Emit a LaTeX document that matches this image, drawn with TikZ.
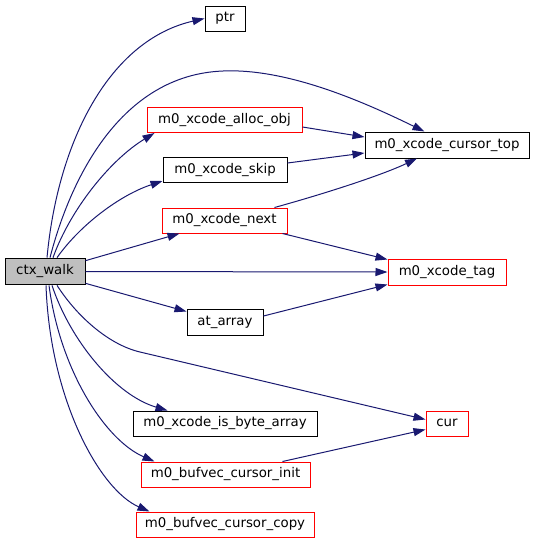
\documentclass[tikz,border=0pt]{standalone}
\usepackage{fontspec}
\setmainfont{DejaVu Sans}
\usetikzlibrary{arrows.meta,calc}
\definecolor{edgeblue}{HTML}{191970}
\definecolor{nodegray}{HTML}{BFBFBF}
\begin{document}
\begin{tikzpicture}[x=0.75pt,y=-0.75pt,
  fn/.style={draw=black, line width=0.75pt, inner sep=0pt, minimum height=18.75pt,
    text height=7.3pt, text depth=2.2pt, font=\fontsize{10}{12}\selectfont, anchor=center},
  redfn/.style={fn, draw=red},
  root/.style={fn, fill=nodegray, minimum height=20pt},
  call/.style={draw=edgeblue, line width=0.75pt, -{Triangle[length=9pt,width=6pt]}}
]
\useasboundingbox (0,0) rectangle (535,544);

\node[root, minimum width=60pt] (ctx) at (45,271.5) {ctx\_walk};
\node[fn, minimum width=30pt] (ptr) at (225,18.5) {ptr};
\node[redfn, minimum width=116.25pt] (alloc) at (224.5,120) {m0\_xcode\_alloc\_obj};
\node[fn, minimum width=123pt, minimum height=19.5pt] (ctop) at (447,145) {m0\_xcode\_cursor\_top};
\node[fn, minimum width=93pt] (skip) at (225,170) {m0\_xcode\_skip};
\node[redfn, minimum width=93.75pt] (next) at (224.5,220.5) {m0\_xcode\_next};
\node[redfn, minimum width=88.5pt, minimum height=19.5pt] (tag) at (447,272) {m0\_xcode\_tag};
\node[fn, minimum width=57pt, minimum height=19.5pt] (atarr) at (225,322) {at\_array};
\node[fn, minimum width=138pt] (isbyte) at (225,423.5) {m0\_xcode\_is\_byte\_array};
\node[redfn, minimum width=31.5pt] (cur) at (447,423.5) {cur};
\node[redfn, minimum width=126.75pt] (binit) at (225.5,474.5) {m0\_bufvec\_cursor\_init};
\node[redfn, minimum width=133.5pt] (bcopy) at (225,524.5) {m0\_bufvec\_cursor\_copy};

% edges from ctx_walk
\draw[call] ($(ctx.north)+(2,0)$) .. controls (58,140) and (110,40) .. (ptr.west);
\draw[call] ($(ctx.north)+(5,0)$) .. controls (70,180) and (120,75) .. (223,71)
  .. controls (290,68) and (370,105) .. ($(ctop.north west)+(60,0)$);
\draw[call] ($(ctx.north)+(8,0)$) .. controls (70,210) and (110,160) .. ($(alloc.south west)+(8,0)$);
\draw[call] ($(ctx.north)+(12,0)$) .. controls (80,225) and (120,195) .. ($(skip.south west)+(0,-2)$);
\draw[call] ($(ctx.north east)+(0,3)$) -- ($(next.south west)+(18,0)$);
\draw[call] (ctx.east) -- (tag.west);
\draw[call] ($(ctx.south east)+(0,-2)$) -- ($(atarr.north west)+(0,3)$);
\draw[call] ($(ctx.south)+(12,0)$) .. controls (78,318) and (110,345) .. (140,352)
  -- ($(cur.west)+(0,-4)$);
\draw[call] ($(ctx.south)+(7,0)$) .. controls (70,340) and (115,395) .. ($(isbyte.north west)+(35,0)$);
\draw[call] ($(ctx.south)+(4,0)$) .. controls (60,370) and (105,440) .. ($(binit.north west)+(14,0)$);
\draw[call] ($(ctx.south)+(1,0)$) .. controls (50,400) and (100,490) .. ($(bcopy.north west)+(14,0)$);

% other edges
\draw[call] ($(alloc.east)+(0,7)$) -- ($(ctop.west)+(0,-8)$);
\draw[call] ($(skip.east)+(0,-7)$) -- ($(ctop.west)+(0,8)$);
\draw[call] ($(next.north)+(50,0)$) .. controls (320,195) and (380,176) .. ($(ctop.south)+(-30,0)$);
\draw[call] ($(next.south east)+(-5,0)$) -- ($(tag.north west)+(0,1)$);
\draw[call] ($(atarr.east)+(0,-6)$) -- ($(tag.south west)+(0,-1)$);
\draw[call] ($(binit.north east)+(-28,0)$) -- ($(cur.west)+(0,6)$);
\end{tikzpicture}
\end{document}
